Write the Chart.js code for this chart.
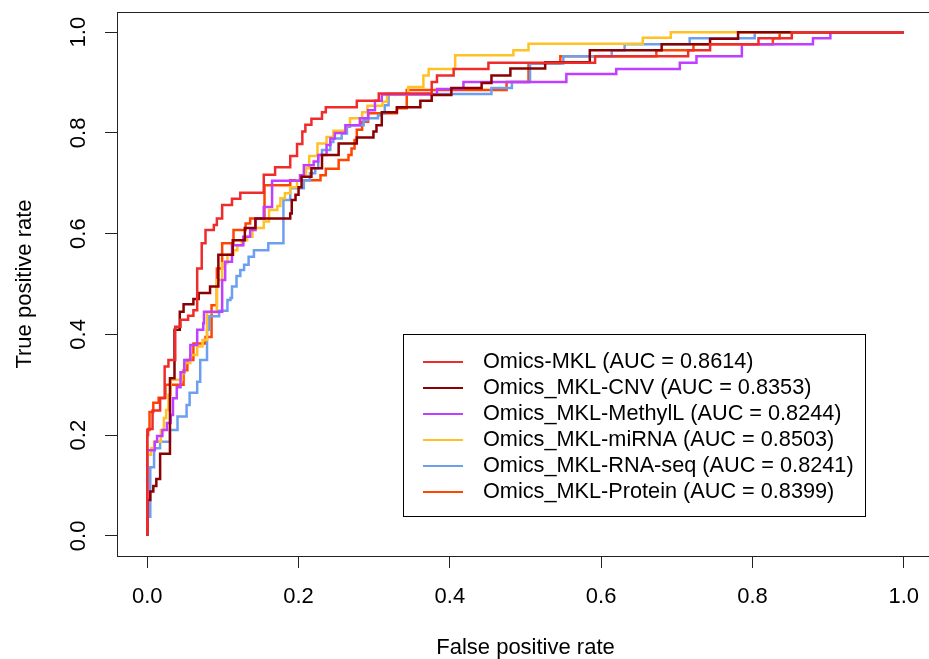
<!doctype html>
<html>

<head>
  <title>ROC curves</title>
  <script src="https://cdn.jsdelivr.net/npm/chart.js@4.4.1/dist/chart.umd.min.js"></script>
  <style>
    html, body {
      margin: 0;
      padding: 0;
      overflow: hidden;
      background: #fff;
    }
  </style>
</head>

<body>
  <canvas id="myChart" width="950" height="659"></canvas>

  <script>
    // ROC corner points: each (fpr, tpr) closes a horizontal run
    var mklFpr = [0, 0.001, 0.007, 0.017, 0.023, 0.028, 0.037, 0.044, 0.054, 0.061, 0.066, 0.072, 0.077, 0.088, 0.092, 0.099, 0.112, 0.123, 0.154, 0.169, 0.189, 0.198, 0.205, 0.209, 0.217, 0.231, 0.236, 0.277, 0.306, 0.376, 0.383, 0.405, 0.451, 0.592, 0.715, 0.744, 0.808, 0.852, 1.0];
    var mklTpr = [0, 0.200, 0.212, 0.249, 0.273, 0.336, 0.349, 0.415, 0.429, 0.437, 0.448, 0.531, 0.581, 0.607, 0.617, 0.630, 0.657, 0.669, 0.681, 0.717, 0.732, 0.754, 0.778, 0.803, 0.816, 0.828, 0.841, 0.851, 0.864, 0.878, 0.901, 0.914, 0.927, 0.939, 0.952, 0.964, 0.976, 0.988, 1.0];

    var cnvFpr = [0, 0.004, 0.008, 0.012, 0.017, 0.030, 0.036, 0.043, 0.048, 0.061, 0.068, 0.083, 0.094, 0.113, 0.129, 0.143, 0.189, 0.191, 0.196, 0.200, 0.204, 0.217, 0.231, 0.253, 0.277, 0.299, 0.303, 0.310, 0.330, 0.361, 0.376, 0.402, 0.442, 0.455, 0.480, 0.526, 0.585, 0.680, 0.744, 0.781, 1.0];
    var cnvTpr = [0, 0.071, 0.088, 0.099, 0.113, 0.163, 0.313, 0.409, 0.445, 0.460, 0.470, 0.482, 0.495, 0.558, 0.587, 0.611, 0.630, 0.640, 0.667, 0.677, 0.692, 0.713, 0.730, 0.756, 0.779, 0.791, 0.803, 0.815, 0.841, 0.851, 0.864, 0.875, 0.889, 0.899, 0.914, 0.928, 0.940, 0.964, 0.976, 0.987, 1.0];

    var methFpr = [0, 0.010, 0.013, 0.020, 0.026, 0.031, 0.034, 0.039, 0.044, 0.049, 0.057, 0.066, 0.074, 0.075, 0.099, 0.103, 0.112, 0.127, 0.136, 0.143, 0.154, 0.165, 0.202, 0.207, 0.220, 0.226, 0.237, 0.242, 0.248, 0.262, 0.281, 0.292, 0.301, 0.310, 0.383, 0.418, 0.554, 0.620, 0.704, 0.726, 0.786, 0.880, 0.903, 1.0];
    var methTpr = [0, 0.170, 0.187, 0.198, 0.210, 0.224, 0.240, 0.273, 0.295, 0.325, 0.349, 0.379, 0.409, 0.422, 0.445, 0.508, 0.544, 0.577, 0.594, 0.607, 0.630, 0.653, 0.705, 0.716, 0.736, 0.743, 0.756, 0.776, 0.789, 0.800, 0.815, 0.829, 0.845, 0.864, 0.876, 0.887, 0.901, 0.917, 0.927, 0.939, 0.952, 0.976, 0.988, 1.0];

    var mirFpr = [0, 0.005, 0.009, 0.018, 0.022, 0.025, 0.028, 0.031, 0.046, 0.049, 0.057, 0.066, 0.073, 0.079, 0.092, 0.099, 0.106, 0.114, 0.119, 0.125, 0.132, 0.139, 0.143, 0.154, 0.161, 0.172, 0.176, 0.182, 0.189, 0.198, 0.202, 0.210, 0.214, 0.225, 0.237, 0.246, 0.262, 0.268, 0.284, 0.291, 0.311, 0.317, 0.345, 0.365, 0.372, 0.407, 0.484, 0.504, 0.655, 0.692, 1.0];
    var mirTpr = [0, 0.161, 0.174, 0.187, 0.210, 0.234, 0.250, 0.280, 0.310, 0.323, 0.343, 0.359, 0.376, 0.389, 0.444, 0.508, 0.541, 0.558, 0.567, 0.577, 0.587, 0.594, 0.607, 0.611, 0.624, 0.647, 0.655, 0.670, 0.680, 0.692, 0.706, 0.716, 0.730, 0.754, 0.779, 0.792, 0.804, 0.815, 0.829, 0.841, 0.854, 0.862, 0.877, 0.891, 0.914, 0.927, 0.954, 0.964, 0.977, 0.989, 1.0];

    var rnaFpr = [0, 0.004, 0.009, 0.017, 0.030, 0.040, 0.052, 0.056, 0.066, 0.070, 0.079, 0.082, 0.095, 0.106, 0.110, 0.112, 0.118, 0.123, 0.128, 0.134, 0.141, 0.160, 0.180, 0.189, 0.207, 0.215, 0.222, 0.226, 0.231, 0.242, 0.246, 0.257, 0.264, 0.268, 0.286, 0.291, 0.305, 0.310, 0.314, 0.319, 0.455, 0.482, 0.506, 0.550, 0.614, 0.631, 0.717, 0.803, 1.0];
    var rnaTpr = [0, 0.038, 0.136, 0.174, 0.187, 0.210, 0.237, 0.260, 0.284, 0.306, 0.349, 0.409, 0.436, 0.447, 0.468, 0.472, 0.495, 0.516, 0.528, 0.538, 0.554, 0.567, 0.581, 0.667, 0.690, 0.706, 0.720, 0.730, 0.756, 0.766, 0.782, 0.789, 0.799, 0.812, 0.815, 0.825, 0.829, 0.835, 0.839, 0.855, 0.877, 0.889, 0.901, 0.938, 0.952, 0.964, 0.976, 0.988, 1.0];

    var protFpr = [0, 0.003, 0.008, 0.015, 0.024, 0.048, 0.053, 0.061, 0.077, 0.085, 0.092, 0.099, 0.114, 0.130, 0.136, 0.155, 0.189, 0.229, 0.236, 0.253, 0.266, 0.270, 0.274, 0.277, 0.284, 0.292, 0.330, 0.343, 0.475, 0.504, 0.546, 0.673, 0.722, 0.827, 0.836, 1.0];
    var protTpr = [0, 0.210, 0.246, 0.264, 0.274, 0.300, 0.329, 0.349, 0.382, 0.395, 0.458, 0.531, 0.581, 0.607, 0.620, 0.630, 0.696, 0.706, 0.716, 0.729, 0.746, 0.756, 0.769, 0.786, 0.806, 0.822, 0.839, 0.849, 0.885, 0.901, 0.938, 0.952, 0.964, 0.976, 0.988, 1.0];

    var seriesNames = ['Omics-MKL', 'Omics_MKL-CNV', 'Omics_MKL-MethylL', 'Omics_MKL-miRNA', 'Omics_MKL-RNA-seq', 'Omics_MKL-Protein'];
    var aucValues = ['0.8614', '0.8353', '0.8244', '0.8503', '0.8241', '0.8399'];
    var tickValues = [0, 0.2, 0.4, 0.6, 0.8, 1.0];
    var tickLabels = ['0.0', '0.2', '0.4', '0.6', '0.8', '1.0'];

    var colors = ['#EE2C2C', '#8B0000', '#BF3EFF', '#FFC125', '#6C9FEF', '#FF4500'];
    var fprs = [mklFpr, cnvFpr, methFpr, mirFpr, rnaFpr, protFpr];
    var tprs = [mklTpr, cnvTpr, methTpr, mirTpr, rnaTpr, protTpr];

    var FONT = "'Liberation Sans', Arial, sans-serif";
    var FSIZE = 22;

    function toPoints(xs, ys) {
      return xs.map(function(x, i) { return {x: x, y: ys[i]}; });
    }

    var datasets = seriesNames.map(function(name, i) {
      return {
        label: name + ' (AUC = ' + aucValues[i] + ')',
        data: toPoints(fprs[i], tprs[i]),
        borderColor: colors[i],
        backgroundColor: colors[i],
        borderWidth: 2.5,
        borderJoinStyle: 'miter',
        pointRadius: 0,
        stepped: 'after',
        fill: false
      };
    });

    // box around the plot region, as R's box()
    var boxPlugin = {
      id: 'box',
      afterDatasetsDraw: function(chart) {
        var a = chart.chartArea, ctx = chart.ctx;
        ctx.save();
        ctx.strokeStyle = '#222';
        ctx.lineWidth = 1;
        ctx.strokeRect(Math.round(a.left) + 0.5, Math.round(a.top) + 0.5,
          Math.round(a.right - a.left), Math.round(a.bottom - a.top));
        ctx.restore();
      }
    };

    // legend box placed at a data position, like legend(x, y, ...)
    var legendPlugin = {
      id: 'rocLegend',
      afterDraw: function(chart) {
        var ctx = chart.ctx;
        var left = Math.round(chart.scales.x.getPixelForValue(0.338));
        var top = Math.round(chart.scales.y.getPixelForValue(0.401));
        var w = 462, h = 182;
        ctx.save();
        ctx.fillStyle = '#fff';
        ctx.fillRect(left, top, w, h);
        ctx.strokeStyle = '#000';
        ctx.lineWidth = 1;
        ctx.strokeRect(left + 0.5, top + 0.5, w, h);
        ctx.font = '21.7px ' + FONT;
        ctx.textBaseline = 'middle';
        ctx.textAlign = 'left';
        chart.data.datasets.forEach(function(ds, i) {
          var yy = top + 28 + i * 26;
          ctx.strokeStyle = ds.borderColor;
          ctx.lineWidth = 2;
          ctx.beginPath();
          ctx.moveTo(left + 20, yy);
          ctx.lineTo(left + 60, yy);
          ctx.stroke();
          ctx.fillStyle = '#000';
          ctx.fillText(ds.label, left + 80, yy);
        });
        ctx.restore();
      }
    };

    function setTicks(scale) {
      scale.ticks = tickValues.map(function(v) { return {value: v}; });
    }

    var config = {
      type: 'line',
      data: {
        datasets: datasets
      },
      options: {
        responsive: false,
        animation: false,
        layout: {
          padding: {top: 12, right: 16, left: 0, bottom: 0}
        },
        scales: {
          x: {
            type: 'linear',
            min: -0.04,
            max: 1.04,
            afterBuildTicks: setTicks,
            afterFit: function(s) {
              s.height = 103;
              s.paddingLeft = 0;
              s.paddingRight = 0;
            },
            border: {display: false},
            grid: {drawOnChartArea: false, tickLength: 12, color: '#222'},
            ticks: {
              autoSkip: false,
              maxRotation: 0,
              padding: 16,
              color: '#000',
              font: {family: FONT, size: FSIZE},
              callback: function(v, i) { return tickLabels[i]; }
            },
            title: {
              display: true,
              text: 'False positive rate',
              color: '#000',
              padding: 0,
              font: {family: FONT, size: FSIZE, lineHeight: 1}
            }
          },
          y: {
            type: 'linear',
            min: -0.04,
            max: 1.04,
            afterBuildTicks: setTicks,
            afterFit: function(s) {
              s.width = 117;
              s.paddingTop = 0;
              s.paddingBottom = 0;
            },
            border: {display: false},
            grid: {drawOnChartArea: false, tickLength: 12, color: '#222'},
            ticks: {
              autoSkip: false,
              minRotation: 90,
              maxRotation: 90,
              crossAlign: 'center',
              padding: 11,
              color: '#000',
              font: {family: FONT, size: FSIZE},
              callback: function(v, i) { return tickLabels[i]; }
            },
            title: {
              display: true,
              text: 'True positive rate',
              color: '#000',
              padding: {top: 14, bottom: 0},
              font: {family: FONT, size: FSIZE, lineHeight: 1}
            }
          }
        },
        plugins: {
          legend: {display: false},
          tooltip: {enabled: false}
        }
      },
      plugins: [boxPlugin, legendPlugin]
    };

    window.onload = function() {
      var ctx = document.getElementById('myChart').getContext('2d');
      window.myChart = new Chart(ctx, config);
    };
  </script>
</body>

</html>
